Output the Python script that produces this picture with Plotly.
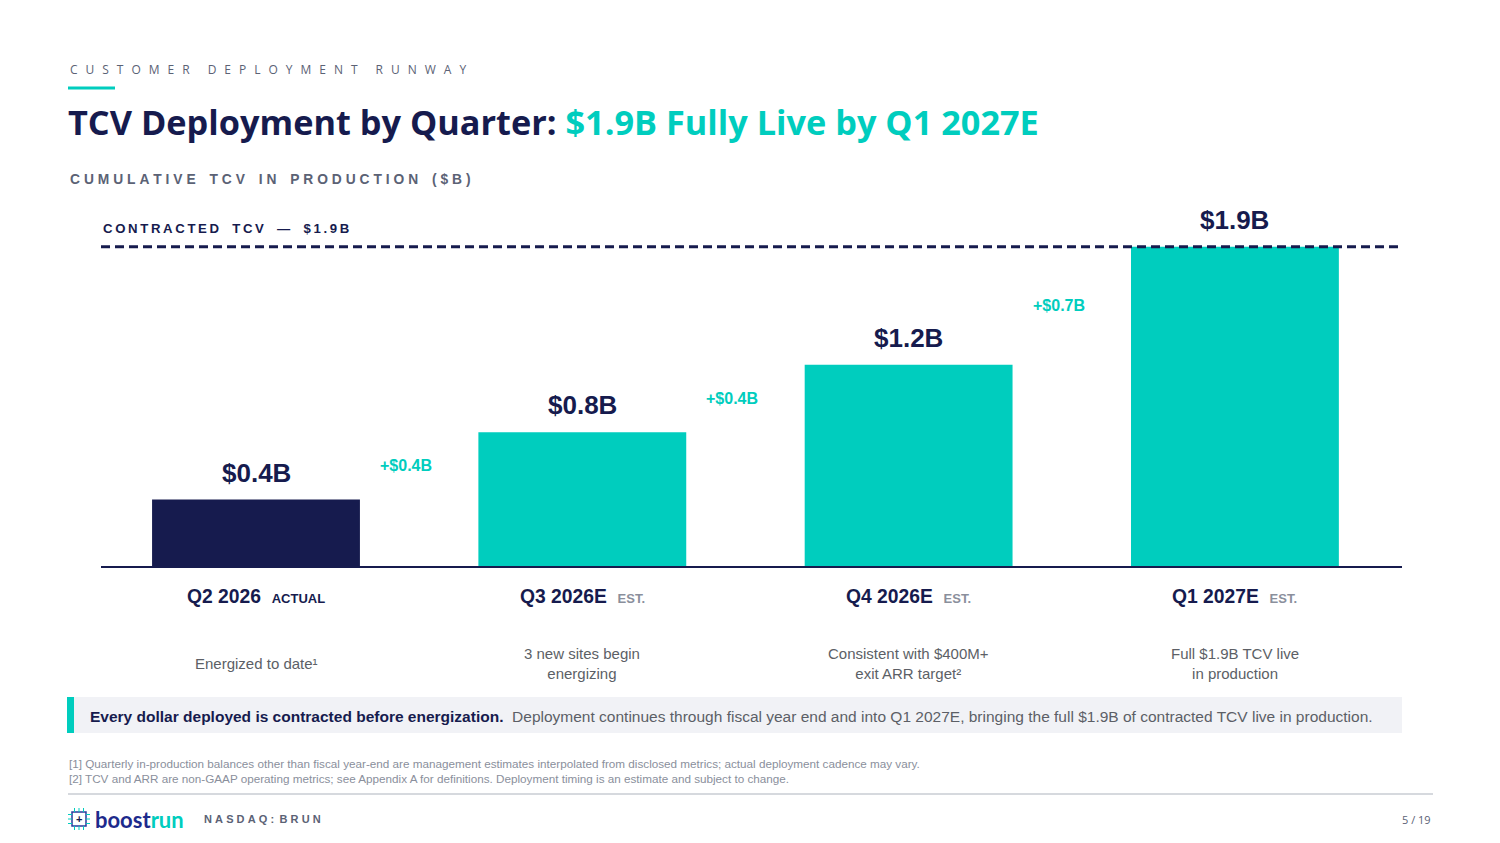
import plotly.graph_objects as go

# chart data
quarters = ['Q2 2026', 'Q3 2026E', 'Q4 2026E', 'Q1 2027E']
status = ['ACTUAL', 'EST.', 'EST.', 'EST.']
tcv = [0.4, 0.8, 1.2, 1.9]
steps = [0.4, 0.4, 0.7]
notes = ['Energized to date¹',
         '3 new sites begin<br>energizing',
         'Consistent with $400M+<br>exit ARR target²',
         'Full $1.9B TCV live<br>in production']
contracted = 1.9

NAVY = '#161b4e'
TEAL = '#00cdbe'
GRAY = '#5b6275'
LIGHT = '#8a8f9c'
W, H = 1500, 843


def spaced(s, gap='\u2002', word='\u2003\u2003'):
    # fake letter-spacing, plotly has none
    return word.join(gap.join(w) for w in s.split(' '))


def px(x):
    return x / W


def py(y):
    return 1 - y / H


x_pos = list(range(len(quarters)))
bar_colors = [NAVY if s == 'ACTUAL' else TEAL for s in status]

fig = go.Figure()
fig.add_trace(go.Bar(x=x_pos, y=tcv, width=0.637, marker_color=bar_colors,
                     marker_line_width=0, hoverinfo='skip'))

# contracted line
fig.add_trace(go.Scatter(x=[-0.475, 3.512], y=[contracted, contracted], mode='lines',
                         line=dict(color=NAVY, width=3, dash='9px,5px'), hoverinfo='skip'))

ann = []
for i, v in enumerate(tcv):
    ann.append(dict(x=i, y=v, xref='x', yref='y', yshift=27, text='<b>$%.1fB</b>' % v,
                    font=dict(family='Liberation Sans, Arial', size=26, color=NAVY)))
    tag_col = NAVY if status[i] == 'ACTUAL' else LIGHT
    ann.append(dict(x=i, y=py(596), xref='x', yref='paper',
                    text='<b>%s</b>  <span style="font-size:13px;color:%s"><b>%s</b></span>' % (quarters[i], tag_col, status[i]),
                    font=dict(family='Liberation Sans, Arial', size=19.3, color=NAVY)))
    ann.append(dict(x=i, y=py(663), xref='x', yref='paper', text=notes[i],
                    font=dict(family='Liberation Sans, Arial', size=15, color='#5c5f66')))

for i, d in enumerate(steps):
    ann.append(dict(x=i + 0.46, y=(tcv[i] + tcv[i + 1]) / 2, xref='x', yref='y',
                    text='<b>+$%.1fB</b>' % d,
                    font=dict(family='Liberation Sans, Arial', size=16, color=TEAL)))

# header texts
ann += [
    dict(x=px(68), y=py(70), text=spaced('CUSTOMER DEPLOYMENT RUNWAY', gap='\u2002\u2009', word='\u2003\u2002'), xanchor='left',
         font=dict(family='Open Sans', size=12, color=GRAY)),
    dict(x=px(66), y=py(122),
         text='<b>TCV Deployment by Quarter: <span style="color:%s">$1.9B Fully Live by Q1 2027E</span></b>' % TEAL,
         xanchor='left', font=dict(family='Open Sans', size=34.3, color=NAVY)),
    dict(x=px(68), y=py(180), text='<b>' + spaced('CUMULATIVE TCV IN PRODUCTION ($B)', gap='\u2009\u200a', word='\u2002\u2002') + '</b>',
         xanchor='left', font=dict(family='Liberation Sans, Arial', size=13.8, color=GRAY)),
    dict(x=px(101), y=py(228), text='<b>' + spaced('CONTRACTED TCV — $1.9B', gap='\u2009', word='\u2002\u2002') + '</b>',
         xanchor='left', font=dict(family='Liberation Sans, Arial', size=13.2, color=NAVY)),
    dict(x=px(88), y=py(716),
         text='<b>Every dollar deployed is contracted before energization.</b>  '
              '<span style="color:#5c5f66">Deployment continues through fiscal year end and into Q1 2027E, '
              'bringing the full $1.9B of contracted TCV live in production.</span>',
         xanchor='left', font=dict(family='Liberation Sans, Arial', size=15.5, color=NAVY)),
    dict(x=px(67), y=py(771),
         text='[1] Quarterly in-production balances other than fiscal year-end are management estimates interpolated '
              'from disclosed metrics; actual deployment cadence may vary.<br>'
              '[2] TCV and ARR are non-GAAP operating metrics; see Appendix A for definitions. '
              'Deployment timing is an estimate and subject to change.',
         xanchor='left', align='left', font=dict(family='Liberation Sans, Arial', size=11.7, color=LIGHT)),
    dict(x=px(93), y=py(819), text='<b>boost<span style="color:%s">run</span></b>' % TEAL, xanchor='left',
         font=dict(family='Lato', size=22, color='#1d2a8c')),
    dict(x=px(79), y=py(819), text='<b>+</b>', font=dict(family='Liberation Sans', size=11, color=NAVY)),
    dict(x=px(202), y=py(819), text='<b>' + spaced('NASDAQ: BRUN', gap='\u2009\u200a', word='\u2002') + '</b>', xanchor='left',
         font=dict(family='Liberation Sans, Arial', size=11, color=GRAY)),
    dict(x=px(1433), y=py(819), text='5 / 19', xanchor='right',
         font=dict(family='Open Sans', size=11, color=GRAY)),
]
for a in ann:
    a.setdefault('xref', 'paper')
    a.setdefault('yref', 'paper')
    a.setdefault('xanchor', 'center')
    a['yanchor'] = 'middle'
    a['showarrow'] = False

shapes = [
    # teal accent under kicker
    dict(type='rect', x0=px(68), x1=px(115), y0=py(86.5), y1=py(89.5), fillcolor=TEAL, line_width=0),
    # baseline
    dict(type='line', x0=px(101), x1=px(1402), y0=py(567), y1=py(567), line=dict(color=NAVY, width=2)),
    # callout box
    dict(type='rect', x0=px(67), x1=px(1402), y0=py(697), y1=py(733), fillcolor='#f1f2f6', line_width=0, layer='below'),
    dict(type='rect', x0=px(67), x1=px(74), y0=py(697), y1=py(733), fillcolor=TEAL, line_width=0),
    # footer rule
    dict(type='line', x0=px(68), x1=px(1433), y0=py(794), y1=py(794), line=dict(color='#c9ccd3', width=1.5)),
    # logo chip
    dict(type='rect', x0=px(72), x1=px(86), y0=py(812), y1=py(826), fillcolor='white',
         line=dict(color='#2a3a9c', width=1.5)),
]
for k in range(3):
    yy = 814.5 + k * 4.5
    shapes.append(dict(type='line', x0=px(68), x1=px(72), y0=py(yy), y1=py(yy), line=dict(color=TEAL, width=1)))
    shapes.append(dict(type='line', x0=px(86), x1=px(90), y0=py(yy), y1=py(yy), line=dict(color=TEAL, width=1)))
    xx = 74.5 + k * 4.5
    shapes.append(dict(type='line', x0=px(xx), x1=px(xx), y0=py(808), y1=py(812), line=dict(color=TEAL, width=1)))
    shapes.append(dict(type='line', x0=px(xx), x1=px(xx), y0=py(826), y1=py(830), line=dict(color=TEAL, width=1)))
for s in shapes:
    s['xref'] = 'paper'
    s['yref'] = 'paper'

y_top = 2.2
fig.update_layout(
    width=W, height=H, margin=dict(l=0, r=0, t=0, b=0),
    paper_bgcolor='white', plot_bgcolor='white', showlegend=False,
    annotations=ann, shapes=shapes,
    xaxis=dict(domain=[px(101), px(1402)], range=[-0.475, 3.512], visible=False, fixedrange=True),
    yaxis=dict(domain=[py(567), py(567 - y_top * 168.5)], range=[0, y_top], visible=False, fixedrange=True),
)

fig.write_html('out.html', config={'displayModeBar': False},
               post_script="document.body.style.margin='0';")
